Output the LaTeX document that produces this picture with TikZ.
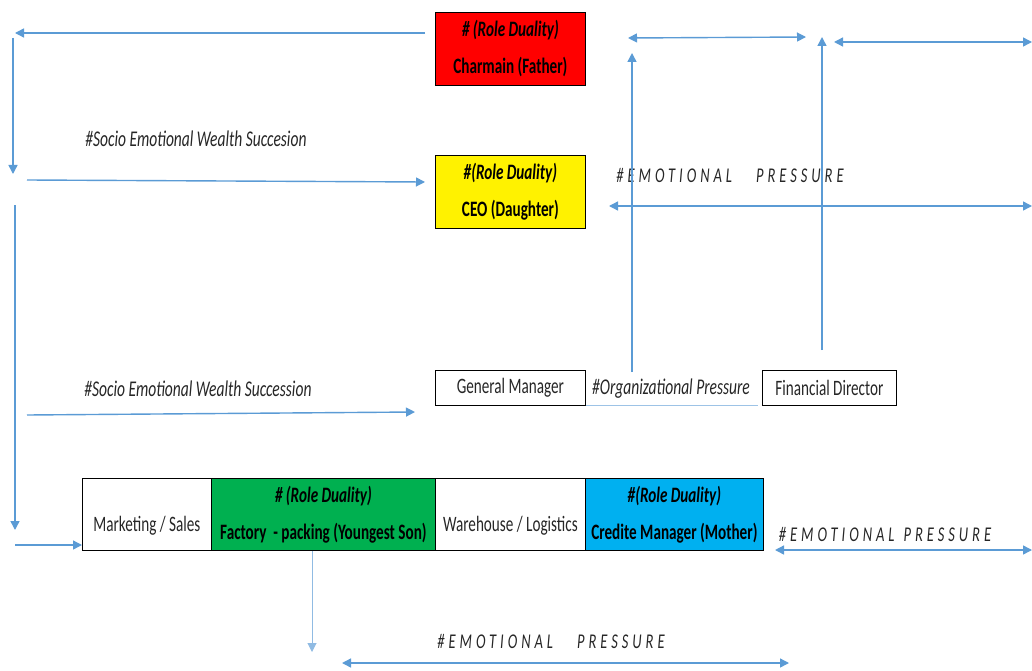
\documentclass[tikz,border=0pt]{standalone}
\usepackage{fontspec}
\setmainfont{Carlito}[FakeStretch=0.69]
\usetikzlibrary{arrows.meta}
\definecolor{arrowblue}{HTML}{5B9BD5}
\definecolor{lineblue}{HTML}{9DC3E6}
\definecolor{txtgray}{HTML}{262626}
\definecolor{rolegreen}{HTML}{00B050}
\definecolor{roleblue}{HTML}{00B0F0}
\tikzset{
  box/.style={draw=black, line width=0.8pt, anchor=north west, inner sep=0pt,
    align=center, font=\fontsize{22}{37}\selectfont, text=txtgray},
  role/.style={box, font=\bfseries\fontsize{22}{37}\selectfont, text=black},
  flow/.style={draw=arrowblue, line width=1.4pt, -{Triangle[length=9pt,width=9pt]}},
  both/.style={flow, {Triangle[length=9pt,width=9pt]}-{Triangle[length=9pt,width=9pt]}},
  tag/.style={font=\itshape\fontsize{22.5}{24}\selectfont, text=txtgray, inner sep=0pt},
  pressure/.style={font=\itshape\fontsize{21}{24}\selectfont\addfontfeature{LetterSpace=19},
    text=txtgray, inner sep=0pt},
}
\newcommand{\roletag}{\textit{\# (Role Duality)}}
\begin{document}
\begin{tikzpicture}[x=1pt,y=-1pt]
\useasboundingbox (0,0) rectangle (1032,671);

% family and management boxes
\node[role, fill=red, minimum width=150pt, minimum height=73pt] (father) at (435,12)
  {\roletag\\Charmain (Father)};
\node[role, fill=yellow, minimum width=150pt, minimum height=73pt] (ceo) at (435,155)
  {\textit{\#(Role Duality)}\\CEO (Daughter)};
\node[box, minimum width=150pt, minimum height=35pt, font=\fontsize{22}{24}\selectfont] (gm) at (435,370)
  {General Manager};
\node[box, minimum width=134pt, minimum height=35pt, font=\fontsize{22}{24}\selectfont] (fd) at (762,370)
  {Financial Director};

% operational row
\node[box, minimum width=129pt, minimum height=72pt] (sales) at (82,478)
  {\mbox{}\\Marketing / Sales};
\node[role, fill=rolegreen, minimum width=224pt, minimum height=72pt] (factory) at (211,478)
  {\roletag\\Factory\ \ - packing (Youngest Son)};
\node[box, minimum width=150pt, minimum height=72pt] (warehouse) at (435,478)
  {\mbox{}\\Warehouse / Logistics};
\node[role, fill=roleblue, minimum width=178pt, minimum height=72pt] (credit) at (585,478)
  {\textit{\#(Role Duality)}\\Credite Manager (Mother)};

% labels
\node[tag] (sew1) at (196,139) {\#Socio Emotional Wealth Succesion};
\node[tag] (sew2) at (198,389) {\#Socio Emotional Wealth Succession};
\node[tag] (org) at (671,389) {\#Organizational Pressure};
\node[pressure] (ep1) at (730,175) {\#EMOTIONAL\hspace{24pt}PRESSURE};
\node[pressure] (ep2) at (885,534) {\#EMOTIONAL\hspace{9pt}PRESSURE};
\node[pressure] (ep3) at (551,641) {\#EMOTIONAL\hspace{24pt}PRESSURE};

% connector end points
\coordinate (l1) at (15,33);
\coordinate (d1a) at (13,38);   \coordinate (d1b) at (13,174);
\coordinate (r1a) at (27,180);  \coordinate (r1b) at (425,182);
\coordinate (d2a) at (15,205);  \coordinate (d2b) at (15,530);
\coordinate (r2a) at (15,545);
\coordinate (r3a) at (27,415);  \coordinate (r3b) at (415,412);
\coordinate (t1a) at (628,38);  \coordinate (t1b) at (806,37);
\coordinate (u1a) at (632,372); \coordinate (u1b) at (632,53);
\coordinate (u2a) at (822,350); \coordinate (u2b) at (822,37);
\coordinate (t2a) at (834,42);  \coordinate (t2b) at (1032,42);
\coordinate (c1a) at (609,206); \coordinate (c1b) at (1032,206);
\coordinate (c2a) at (775,550); \coordinate (c2b) at (1032,550);
\coordinate (f1b) at (312,652);
\coordinate (c3a) at (342,663); \coordinate (c3b) at (789,663);

% succession flow
\draw[flow] ([xshift=-10pt]father.west |- l1) -- (l1);
\draw[flow] (d1a) -- (d1b);
\draw[flow] (r1a) -- (r1b);
\draw[flow] (d2a) -- (d2b);
\draw[flow] (r2a) -- (sales.west |- r2a);
\draw[flow] (r3a) -- (r3b);

% pressure arrows
\draw[both] (t1a) -- (t1b);
\draw[flow] (u1a) -- (u1b);
\draw[flow] (u2a) -- (u2b);
\draw[both] (t2a) -- (t2b);
\draw[both] (c1a) -- (c1b);
\draw[both] (c2a) -- (c2b);
\draw[flow, line width=1pt, draw=lineblue!80!arrowblue] (factory.south -| f1b) -- (f1b);
\draw[both] (c3a) -- (c3b);

% organizational pressure underline
\draw[draw=lineblue, line width=1pt] (gm.south east) -- ++(172,0);
\end{tikzpicture}
\end{document}
